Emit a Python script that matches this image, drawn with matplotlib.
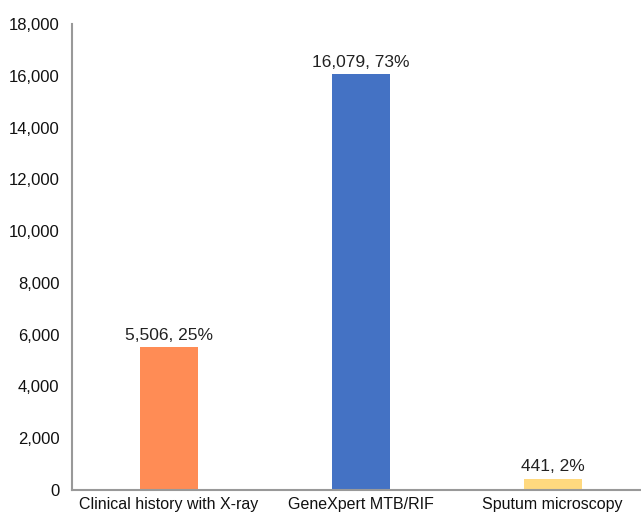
import matplotlib.pyplot as plt
import numpy as np

# data
methods = ['Clinical history with X-ray', 'GeneXpert MTB/RIF', 'Sputum microscopy']
counts = [5506, 16079, 441]
shares = [25, 73, 2]
colors = ['#FF8C55', '#4472C4', '#FFD97F']

plt.rcParams['font.family'] = ['Liberation Sans', 'DejaVu Sans']

fig = plt.figure(figsize=(6.41, 5.15), dpi=100)
ax = fig.add_axes([0.1123, 0.0485, 0.8877, 0.9049])

x = np.arange(len(methods))
ax.bar(x, counts, 0.3, color=colors)

for xi, c, s in zip(x, counts, shares):
    ax.annotate(f'{c:,}, {s}%', (xi, c), xytext=(0, 3), textcoords='offset points',
                ha='center', va='bottom', fontsize=12.5, color='#222222')

ax.set_xlim(-0.505, 2.46)
ax.set_ylim(0, 18000)
ax.set_yticks(np.arange(0, 18001, 2000))
ax.yaxis.set_major_formatter(plt.FuncFormatter(lambda v, p: f'{int(v):,}'))
ax.set_xticks(x)
ax.set_xticklabels(methods)
ax.tick_params(axis='both', length=0, labelsize=12, colors='#111111')
ax.tick_params(axis='y', pad=9)
ax.tick_params(axis='x', pad=5, labelsize=11.5)

for side in ['top', 'right']:
    ax.spines[side].set_visible(False)
for side in ['left', 'bottom']:
    ax.spines[side].set_color('#999999')
    ax.spines[side].set_linewidth(1.5)

fig.savefig('out.png', dpi=100)
